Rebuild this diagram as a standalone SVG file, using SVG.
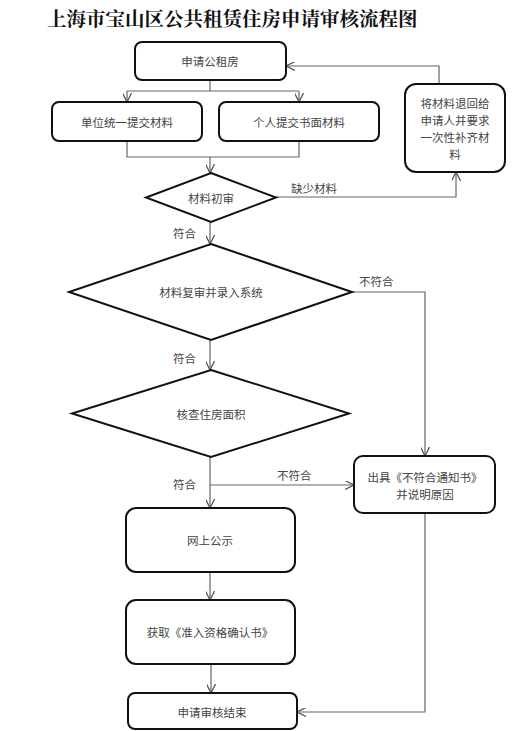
<svg xmlns="http://www.w3.org/2000/svg" width="530" height="731" viewBox="0 0 530 731">
<style>
.box{fill:#fff;stroke:#111;stroke-width:2}
.t{font-family:"Noto Sans CJK SC","Noto Sans",sans-serif;font-size:11.5px;fill:#444;text-anchor:middle;dominant-baseline:central}
.lbl{font-family:"Noto Sans CJK SC","Noto Sans",sans-serif;font-size:11.5px;fill:#444;dominant-baseline:central}
.c{fill:none;stroke:#666;stroke-width:1.2}
.title{font-family:"Noto Serif CJK SC","Noto Sans CJK SC",serif;font-size:19.5px;font-weight:bold;fill:#111}
</style>
<defs>
<marker id="a" viewBox="0 0 10 10" refX="10" refY="5" markerWidth="9" markerHeight="9" markerUnits="userSpaceOnUse" orient="auto">
<path d="M0,0 L10,5 L0,10" fill="none" stroke="#555" stroke-width="1.4"/>
</marker>
</defs>
<rect width="530" height="731" fill="#fff"/>
<text class="title" x="47" y="26">上海市宝山区公共租赁住房申请审核流程图</text>

<g id="connectors">
<path class="c" d="M210,80 V91"/>
<path class="c" d="M127,91 H299"/>
<path class="c" d="M127,91 V102" marker-end="url(#a)"/>
<path class="c" d="M299,91 V102" marker-end="url(#a)"/>
<path class="c" d="M127,141 V157 H299 V141"/>
<path class="c" d="M210,157 V173" marker-end="url(#a)"/>
<path class="c" d="M276,197 H456 V172" marker-end="url(#a)"/>
<path class="c" d="M439,84 V66 H286" marker-end="url(#a)"/>
<path class="c" d="M210,222 V244" marker-end="url(#a)"/>
<path class="c" d="M352,292 H425 V456" marker-end="url(#a)"/>
<path class="c" d="M210,340 V370" marker-end="url(#a)"/>
<path class="c" d="M210,457 V508" marker-end="url(#a)"/>
<path class="c" d="M210,485 H354" marker-end="url(#a)"/>
<path class="c" d="M210,572 V600" marker-end="url(#a)"/>
<path class="c" d="M211,664 V693" marker-end="url(#a)"/>
<path class="c" d="M425,513 V712 H297" marker-end="url(#a)"/>
<text class="lbl" x="291" y="188">缺少材料</text>
<text class="lbl" x="173" y="233">符合</text>
<text class="lbl" x="359" y="281">不符合</text>
<text class="lbl" x="173" y="358">符合</text>
<text class="lbl" x="277" y="475">不符合</text>
<text class="lbl" x="173" y="484">符合</text>
</g>

<g id="n1"><rect class="box" x="135" y="42" width="151" height="38" rx="7"/><text class="t" x="210" y="61">申请公租房</text></g>
<g id="n2"><rect class="box" x="52" y="102" width="150" height="39" rx="7"/><text class="t" x="127" y="121.5">单位统一提交材料</text></g>
<g id="n3"><rect class="box" x="219" y="102" width="160" height="39" rx="7"/><text class="t" x="299" y="121.5">个人提交书面材料</text></g>
<g id="n4"><rect class="box" x="405" y="84" width="100" height="88" rx="11"/>
<text class="t" x="455" y="103">将材料退回给</text><text class="t" x="455" y="120">申请人并要求</text><text class="t" x="455" y="137">一次性补齐材</text><text class="t" x="455" y="154">料</text></g>
<g id="d1"><polygon class="box" points="211,173 276,197.5 211,222 146,197.5"/><text class="t" x="211" y="197.5">材料初审</text></g>
<g id="d2"><polygon class="box" points="211,244 352,292 211,340 69,292"/><text class="t" x="211" y="292">材料复审并录入系统</text></g>
<g id="d3"><polygon class="box" points="211,370 349,413.5 211,457 72,413.5"/><text class="t" x="211" y="413.5">核查住房面积</text></g>
<g id="n5"><rect class="box" x="354" y="456" width="141" height="57" rx="9"/><text class="t" x="425" y="477">出具《不符合通知书》</text><text class="t" x="425" y="494">并说明原因</text></g>
<g id="n6"><rect class="box" x="126" y="508" width="169" height="64" rx="10"/><text class="t" x="210" y="540">网上公示</text></g>
<g id="n7"><rect class="box" x="126" y="600" width="169" height="64" rx="10"/><text class="t" x="210" y="632">获取《准入资格确认书》</text></g>
<g id="n8"><rect class="box" x="128" y="693" width="169" height="36" rx="7"/><text class="t" x="212" y="712">申请审核结束</text></g>
</svg>
